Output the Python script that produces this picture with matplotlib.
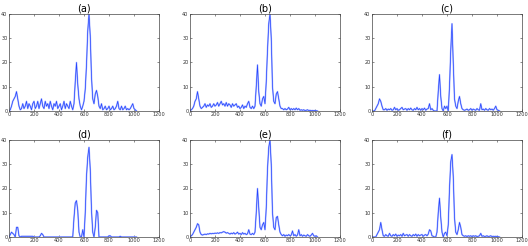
import matplotlib
matplotlib.use('Agg')
import matplotlib.pyplot as plt
import numpy as np

# sampled every 10 units from x = 0
panel_a = [0, 0.5, 2, 4, 5, 6, 8, 5, 2, 0.5,
           1, 3, 1, 2, 4, 1, 3, 2, 0.5, 3,
           4, 1, 2, 4, 1, 3, 5, 2, 1, 4,
           2, 3, 1, 4, 2, 0.5, 3, 2, 4, 1,
           2, 3, 0.5, 2, 4, 1, 3, 2, 1, 4,
           2, 0.5, 3, 12, 20, 11, 5, 2, 0.5, 2,
           4, 9, 19, 33, 40, 31, 14, 5, 3, 7,
           8.5, 6, 2, 1, 3, 0.5, 1, 2, 0.5, 1,
           2, 0.5, 1, 2, 0.5, 1, 2, 4, 1, 0.5,
           2, 0.5, 1, 2, 0.5, 1, 0.5, 1, 2, 3,
           1, 0.5, 0]
panel_b = [0, 0.5, 1, 2, 4, 5, 8, 5, 2, 1,
           1.5, 2, 3, 1.5, 2.5, 2, 3, 1.5, 2, 3,
           2, 2.5, 3.5, 2, 3, 4, 2.5, 3, 2, 3.5,
           2, 3, 2.5, 1.5, 3, 2, 2.5, 3, 1.5, 2,
           1, 1.5, 2.5, 1, 2, 1.5, 3, 4, 1.5, 1,
           2, 1, 2, 10, 19, 8, 3, 2, 5, 6,
           3, 12, 25, 36, 40, 30, 10, 4, 3, 7,
           8, 5, 2, 1, 1, 0.5, 1, 0.5, 0.8, 1.5,
           0.5, 1, 0.5, 1, 0.5, 1.2, 0.5, 1, 0.3, 0.5,
           0.3, 0.5, 0.2, 0.3, 0.5, 0.2, 0.3, 0.1, 0.2, 0.1,
           0.2, 0.1, 0]
panel_c = [0, 0, 0, 1, 2, 3, 5, 4, 2, 0.5,
           0.5, 1, 0.3, 0.8, 0.5, 1, 0.3, 0.5, 1.5, 0.5,
           1, 0.3, 0.5, 1, 1.5, 0.5, 0.8, 1, 0.3, 1,
           0.5, 1.2, 0.5, 0.3, 1, 0.5, 1.5, 0.5, 1, 0.3,
           1, 0.5, 1.2, 0.3, 0.8, 1, 3, 0.5, 1, 0.3,
           0, 0, 0, 8, 15, 6, 1, 0, 2, 1,
           2, 0, 10, 25, 36, 20, 5, 2, 1, 4,
           6, 3, 1, 0.5, 0.3, 0.5, 0.8, 0.3, 0.5, 1,
           0.3, 0.8, 0.5, 0.3, 1, 0.5, 0.3, 3, 0.5, 0.8,
           0.3, 1, 0.5, 0.3, 1, 0.5, 0.8, 0.3, 1, 2,
           0.5, 0.3, 0]
panel_d = [0, 1, 2, 1.5, 1, 0, 4, 4, 0.5, 0,
           0.3, 0.3, 0.3, 0.3, 0.3, 0.3, 0.3, 0.3, 0.3, 0.3,
           0, 0, 0, 0, 0, 0.5, 1.5, 1, 0, 0,
           0, 0, 0, 0, 0, 0, 0, 0, 0, 0,
           0, 0, 0, 0, 0, 0, 0, 0, 0, 0,
           0, 0, 8, 14, 15, 11, 2, 0, 0, 3,
           0, 10, 25, 33, 37, 28, 11, 2, 0, 4,
           11, 10, 0, 0, 0, 0, 0, 0, 0, 0,
           0.5, 0.5, 0, 0, 0, 0, 0, 0, 0, 0.3,
           0, 0, 0, 0, 0, 0, 0, 0, 0, 0,
           0, 0, 0]
panel_e = [0, 0.5, 1, 2, 3, 4, 5.5, 5, 2, 1,
           0.8, 1, 1.2, 1, 1.3, 1.2, 1.5, 1.3, 1.5, 1.4,
           1.6, 1.5, 1.7, 1.5, 1.8, 1.7, 2, 2.2, 2, 1.6,
           1.8, 1.5, 1.2, 1.6, 1.3, 1.8, 1.2, 1.5, 2, 1.2,
           1.5, 1, 1.8, 1.2, 1.5, 1, 1.3, 3, 1.2, 1,
           1.5, 1, 2, 10, 20, 12, 4, 3, 5, 6,
           3, 12, 28, 37, 40, 30, 10, 4, 3, 8,
           8.5, 5, 2, 1, 0.5, 1, 0.3, 0.8, 0.5, 1,
           0.5, 0.8, 2.5, 0.5, 1, 0.3, 0.8, 3, 0.5, 1,
           0.3, 0.8, 0.5, 0.3, 1, 0.5, 0.3, 0.8, 1.5, 0.5,
           0.3, 0.5, 0]
panel_f = [0, 0, 0, 0, 1, 2, 3, 6, 3, 0.5,
           0.3, 1, 0.5, 0.3, 1.5, 0.5, 0.3, 1, 0.5, 1.2,
           0.3, 0.8, 0.5, 1, 0.3, 1.5, 0.5, 0.8, 1, 0.3,
           1, 0.5, 0.3, 1, 0.5, 1.2, 0.3, 1, 0.5, 0.8,
           1, 0.3, 0.8, 1, 0.5, 1.2, 3, 2.5, 0.5, 0.3,
           0, 0, 2, 10, 16, 8, 2, 0, 1.5, 2,
           0.5, 5, 20, 31, 34, 25, 8, 2, 1, 3,
           6, 4, 1, 0.5, 0.3, 0.5, 0.2, 0.5, 0.3, 0.5,
           0.2, 0.5, 0.3, 0.5, 0.2, 0.3, 0.5, 1.5, 0.3, 0.5,
           0.2, 0.3, 0.5, 0.2, 0.3, 0.5, 0.2, 0.3, 0.2, 0.3,
           0.2, 0.1, 0]

titles = ['(a)', '(b)', '(c)', '(d)', '(e)', '(f)']
panels = [panel_a, panel_b, panel_c, panel_d, panel_e, panel_f]

W, H = 528, 246
fig = plt.figure(figsize=(W / 100, H / 100), dpi=100)
lefts = [9, 190, 372]
tops = [14, 140]
aw, ah = 150, 97

for i, (vals, title) in enumerate(zip(panels, titles)):
    row, col = divmod(i, 3)
    l = lefts[col]
    t = tops[row]
    ax = fig.add_axes([l / W, 1 - (t + ah) / H, aw / W, ah / H])
    x = np.arange(len(vals)) * 10
    ax.plot(x, vals, color='#b0bcff', lw=1.2)
    ax.plot(x, vals, color='#2545ff', lw=0.5)
    ax.set_xlim(0, 1200)
    ax.set_ylim(0, 40)
    ax.set_xticks(range(0, 1201, 200))
    ax.set_yticks(range(0, 41, 10))
    ax.tick_params(direction='in', length=1.5, width=0.4, labelsize=3.6,
                   top=True, right=True, pad=1, colors='#333333')
    for s in ax.spines.values():
        s.set_linewidth(0.5)
        s.set_color('#444444')
    ax.set_title(title, fontsize=7, pad=2)

fig.savefig('out.png', dpi=100)
